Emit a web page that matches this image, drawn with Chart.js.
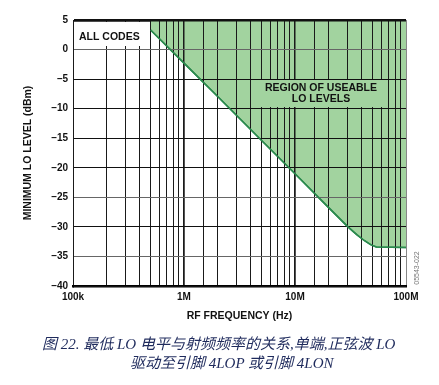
<!DOCTYPE html>
<html>
<head>
<meta charset="utf-8">
<script src="https://cdn.jsdelivr.net/npm/chart.js@4"></script>
<style>
  html, body { margin: 0; padding: 0; background: #fff; }
  #wrap { position: relative; width: 439px; height: 385px; }
  .cap { position: absolute; white-space: nowrap; color: #1e2a5c;
         font: italic 15px "Liberation Serif", "Noto Sans CJK SC", serif; }
</style>
</head>
<body>
<div id="wrap">
  <canvas id="chart" width="439" height="385"></canvas>
  <div class="cap" style="left:42px; top:332px;">图 22. 最低 LO 电平与射频频率的关系,单端,正弦波 LO</div>
  <div class="cap" style="left:130px; top:351px;">驱动至引脚 4LOP 或引脚 4LON</div>
</div>
<script>
'use strict';

// boundary of the usable LO region
const freqHz = [5e5, 1e6, 2e6, 5e6, 1e7, 2e7, 3e7, 3.6e7, 4.2e7, 4.8e7, 5.4e7, 1e8];
const minLoDbm = [3.3, -2.3, -7.9, -15.4, -21.0, -26.7, -30.0, -31.3, -32.3, -33.0, -33.4, -33.5];

const xTickValues = [1e5, 1e6, 1e7, 1e8];
const xTickText = ['100k', '1M', '10M', '100M'];
const yTicks = [5, 0, -5, -10, -15, -20, -25, -30, -35, -40];

const grayY = [0, -25, -35];

let canvasElem = document.getElementById('chart');

const overlay = {
    id: 'overlay',
    afterDatasetsDraw(chart) {
        const ctx = chart.ctx;
        const area = chart.chartArea;
        // grid on top of the green fill
        chart.scales.x.drawGrid(area);
        chart.scales.y.drawGrid(area);
        ctx.save();
        ctx.beginPath();
        ctx.rect(area.left, area.top, area.right - area.left, area.bottom - area.top);
        ctx.clip();
        chart.getDatasetMeta(0).dataset.draw(ctx, area);
        ctx.restore();

        ctx.save();
        ctx.fillStyle = '#fff';
        ctx.fillRect(area.left + 1, 22, 74, 24);
        ctx.fillStyle = '#a2d39f';
        ctx.fillRect(258, 80, 126, 27);

        ctx.fillStyle = '#111';
        ctx.font = 'bold 10.5px "Liberation Sans", Arial, sans-serif';
        ctx.textBaseline = 'middle';
        ctx.textAlign = 'left';
        ctx.fillText('ALL CODES', 79, 37);
        ctx.textAlign = 'center';
        ctx.fillText('REGION OF USEABLE', 321, 88);
        ctx.fillText('LO LEVELS', 321, 99);

        ctx.translate(417, 268);
        ctx.rotate(-Math.PI / 2);
        ctx.font = '7px "Liberation Sans", Arial, sans-serif';
        ctx.fillStyle = '#777';
        ctx.fillText('05543-022', 0, 0);
        ctx.restore();
    }
};

function renderChart() {
    const ctx = canvasElem.getContext('2d');
    const points = freqHz.map((f, i) => ({ x: f, y: minLoDbm[i] }));
    const tickFont = { family: '"Liberation Sans", Arial, sans-serif', size: 10, weight: 'bold' };
    const titleFont = { family: '"Liberation Sans", Arial, sans-serif', size: 10.5, weight: 'bold' };

    new Chart(ctx, {
        type: 'line',
        data: {
            datasets: [
                {
                    label: 'Minimum LO level',
                    data: points,
                    borderColor: '#2b8a4e',
                    borderWidth: 1.5,
                    backgroundColor: '#a2d39f',
                    fill: 'end',
                    pointRadius: 0,
                    tension: 0
                }
            ]
        },
        options: {
            responsive: false,
            animation: false,
            events: [],
            layout: { padding: { left: 10, right: 33, top: 20, bottom: 60 } },
            plugins: {
                legend: { display: false },
                tooltip: { enabled: false }
            },
            scales: {
                x: {
                    type: 'logarithmic',
                    min: 1e5,
                    max: 1e8,
                    afterFit: scale => { scale.height = 39; },
                    grid: {
                        drawTicks: false,
                        color: ctx => {
                            const v = ctx.tick ? ctx.tick.value : 0;
                            return (v >= 1e8 * 0.99) ? '#888' : '#1a1a1a';
                        },
                        lineWidth: ctx => {
                            const v = ctx.tick ? ctx.tick.value : 0;
                            return xTickValues.some(t => Math.abs(t - v) < t * 1e-6) && v > 1e5 && v < 1e8 ? 1.5 : 1;
                        }
                    },
                    border: { color: '#000', width: 2.5 },
                    ticks: {
                        autoSkip: false,
                        maxRotation: 0,
                        padding: 5,
                        color: '#111',
                        font: tickFont,
                        callback: value => {
                            const i = xTickValues.findIndex(t => Math.abs(t - value) < t * 1e-6);
                            return i >= 0 ? xTickText[i] : '';
                        }
                    },
                    title: {
                        display: true,
                        text: 'RF FREQUENCY (Hz)',
                        color: '#111',
                        font: titleFont,
                        padding: { top: 0, bottom: 3 }
                    }
                },
                y: {
                    min: -40,
                    max: 5,
                    afterFit: scale => { scale.width = 63; },
                    afterBuildTicks: scale => { scale.ticks = yTicks.map(v => ({ value: v })); },
                    grid: {
                        drawTicks: false,
                        color: ctx => {
                            const v = ctx.tick ? ctx.tick.value : 0;
                            return grayY.includes(v) ? '#666' : '#111';
                        },
                        lineWidth: ctx => {
                            const v = ctx.tick ? ctx.tick.value : 0;
                            return v === 5 ? 2.5 : 1;
                        }
                    },
                    border: { color: '#000', width: 1 },
                    ticks: {
                        padding: 5,
                        color: '#111',
                        font: tickFont,
                        callback: value => (value < 0 ? '–' + Math.abs(value) : String(value))
                    },
                    title: {
                        display: true,
                        text: 'MINIMUM LO LEVEL (dBm)',
                        color: '#111',
                        font: titleFont,
                        padding: { top: 12, bottom: 0 }
                    }
                }
            }
        },
        plugins: [overlay]
    });
}

renderChart();
</script>
</body>
</html>
